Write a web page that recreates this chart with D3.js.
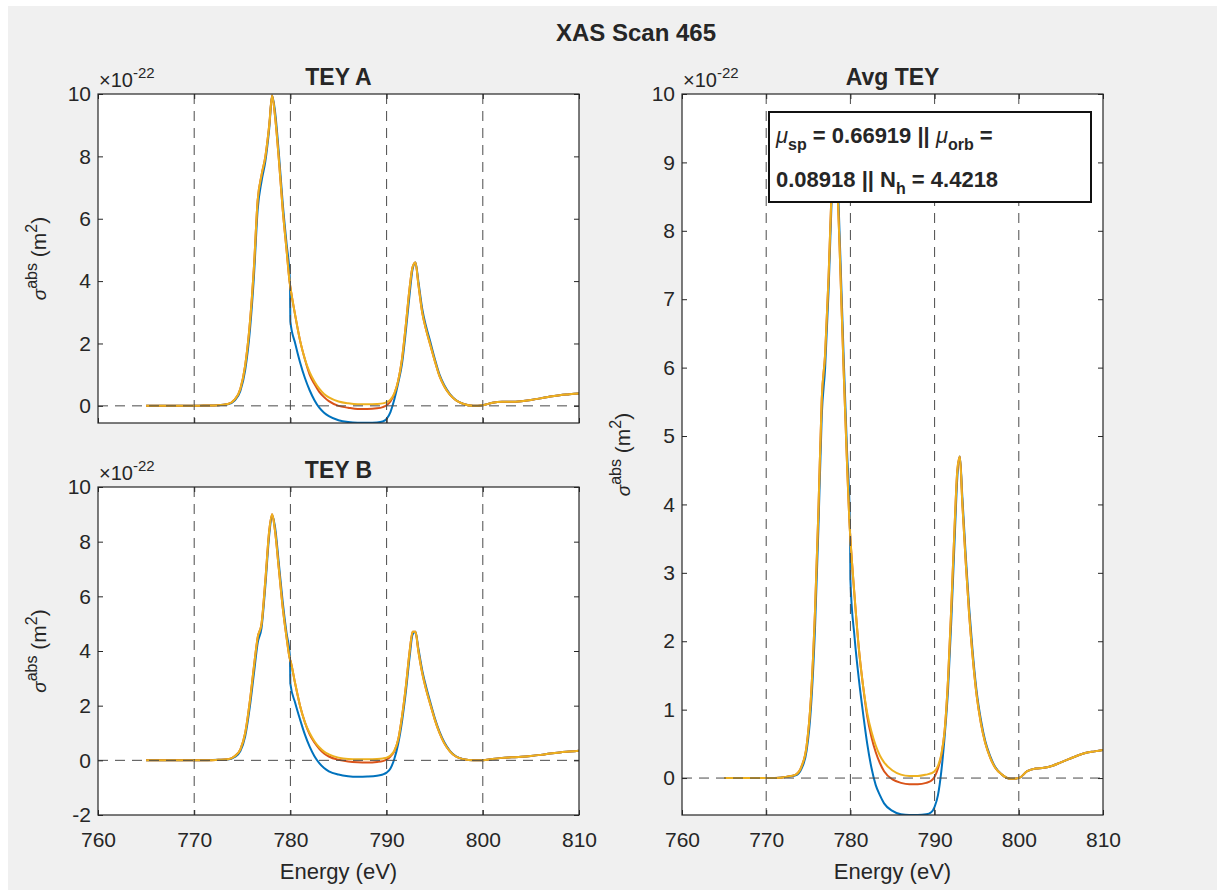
<!DOCTYPE html>
<html><head><meta charset="utf-8">
<script src="https://cdn.jsdelivr.net/npm/d3@7"></script>
<style>
body{margin:0;background:#fff}
svg{display:block}
text{font-family:"Liberation Sans",Arial,Helvetica,sans-serif;fill:#262626}
</style></head>
<body><svg id="chart" width="1217" height="890"></svg>
<script>
// ---------- DATA ----------
const energy = [765,767,769,771,772.5,773.5,774.2,774.8,775.3,775.8,776.2,776.6,777.0,777.4,777.8,778.1,778.4,778.8,779.2,779.6,779.95,780.0,780.5,781.0,781.5,782.0,782.5,783.0,783.5,784.0,785.0,786.0,787.0,788.0,789.0,789.6,790.0,790.4,790.8,791.2,791.6,792.0,792.4,792.7,793.0,793.3,793.7,794.1,794.5,795.0,795.5,796.0,796.6,797.2,798.0,799.0,800.0,801.0,802.0,803.0,804.0,805.0,806.0,807.0,808.0,809.0,810.0];

const teyA_yellow = [0,0,0,0.01,0.02,0.06,0.2,0.55,1.3,2.7,4.4,6.6,7.4,8.0,9.0,9.95,9.3,7.9,6.3,5.0,3.9,3.8,2.9,2.1,1.5,1.08,0.78,0.55,0.38,0.27,0.14,0.08,0.05,0.05,0.06,0.08,0.12,0.2,0.4,0.8,1.5,2.6,3.8,4.45,4.6,3.9,3.0,2.45,2.0,1.45,0.95,0.62,0.35,0.18,0.06,0.0,0.02,0.1,0.13,0.13,0.15,0.19,0.24,0.3,0.34,0.37,0.4];
const teyA_orange = [0,0,0,0.01,0.02,0.06,0.2,0.55,1.3,2.7,4.4,6.6,7.4,8.0,9.0,9.95,9.3,7.9,6.3,5.0,3.9,3.8,2.9,2.1,1.5,1.0,0.7,0.45,0.28,0.15,0.0,-0.06,-0.1,-0.1,-0.08,-0.04,0.02,0.14,0.38,0.8,1.5,2.6,3.8,4.45,4.6,3.9,3.0,2.45,2.0,1.45,0.95,0.62,0.35,0.18,0.06,0.0,0.02,0.1,0.13,0.13,0.15,0.19,0.24,0.3,0.34,0.37,0.4];
const teyA_blue = [0,0,0,0.01,0.02,0.05,0.17,0.48,1.15,2.45,4.1,6.3,7.2,7.85,8.9,9.95,9.45,8.1,6.5,5.2,4.05,2.7,2.0,1.4,0.9,0.5,0.18,-0.06,-0.22,-0.33,-0.46,-0.52,-0.54,-0.54,-0.53,-0.5,-0.42,-0.2,0.2,0.72,1.35,2.4,3.6,4.38,4.6,4.0,3.12,2.55,2.1,1.52,1.0,0.66,0.37,0.19,0.06,0.0,0.02,0.1,0.13,0.13,0.15,0.19,0.24,0.3,0.34,0.37,0.4];

const teyB_yellow = [0,0,0,0,0.02,0.04,0.15,0.4,1.0,2.2,3.4,4.5,5.0,6.6,8.4,9.0,8.4,7.0,5.6,4.5,3.7,3.65,2.8,2.0,1.4,1.0,0.7,0.48,0.32,0.22,0.1,0.05,0.04,0.04,0.05,0.07,0.1,0.18,0.35,0.75,1.6,2.7,4.0,4.7,4.7,4.0,3.2,2.6,2.1,1.5,1.0,0.62,0.32,0.14,0.04,0.0,0.0,0.05,0.09,0.11,0.13,0.16,0.2,0.25,0.29,0.32,0.35];
const teyB_orange = [0,0,0,0,0.02,0.04,0.15,0.4,1.0,2.2,3.4,4.5,5.0,6.6,8.4,9.0,8.4,7.0,5.6,4.5,3.7,3.65,2.8,2.0,1.4,0.95,0.65,0.42,0.25,0.14,0.02,-0.04,-0.07,-0.08,-0.06,-0.03,0.03,0.14,0.33,0.75,1.6,2.7,4.0,4.7,4.7,4.0,3.2,2.6,2.1,1.5,1.0,0.62,0.32,0.14,0.04,0.0,0.0,0.05,0.09,0.11,0.13,0.16,0.2,0.25,0.29,0.32,0.35];
const teyB_blue = [0,0,0,0,0.02,0.03,0.12,0.34,0.88,2.0,3.15,4.3,4.85,6.4,8.25,8.95,8.55,7.2,5.8,4.65,3.82,2.8,2.1,1.5,0.95,0.5,0.15,-0.1,-0.28,-0.4,-0.52,-0.58,-0.6,-0.59,-0.56,-0.52,-0.45,-0.3,0.05,0.6,1.42,2.5,3.8,4.6,4.7,4.1,3.3,2.7,2.18,1.56,1.05,0.66,0.34,0.15,0.04,0.0,0.0,0.05,0.09,0.11,0.13,0.16,0.2,0.25,0.29,0.32,0.35];

const avg_yellow = [0,0,0,0,0.02,0.05,0.17,0.47,1.15,2.45,3.9,5.55,6.2,7.3,8.7,9.45,8.85,7.45,5.95,4.6,3.6,3.5,2.65,1.9,1.35,0.95,0.68,0.48,0.33,0.23,0.11,0.05,0.03,0.03,0.05,0.07,0.1,0.18,0.35,0.7,1.45,2.55,3.75,4.5,4.7,4.0,3.15,2.4,1.8,1.2,0.8,0.52,0.3,0.15,0.05,-0.01,0.0,0.1,0.14,0.15,0.18,0.23,0.28,0.33,0.37,0.39,0.41];
const avg_orange = [0,0,0,0,0.02,0.05,0.17,0.47,1.15,2.45,3.9,5.55,6.2,7.3,8.7,9.45,8.85,7.45,5.95,4.6,3.6,3.5,2.65,1.9,1.35,0.9,0.6,0.38,0.22,0.1,-0.02,-0.07,-0.09,-0.09,-0.07,-0.04,0.02,0.14,0.33,0.7,1.45,2.55,3.75,4.5,4.7,4.0,3.15,2.4,1.8,1.2,0.8,0.52,0.3,0.15,0.05,-0.01,0.0,0.1,0.14,0.15,0.18,0.23,0.28,0.33,0.37,0.39,0.41];
const avg_blue = [0,0,0,0,0.02,0.04,0.14,0.4,1.0,2.2,3.65,5.3,6.0,7.1,8.55,9.45,9.0,7.65,6.15,4.78,3.72,2.9,2.05,1.45,0.95,0.5,0.15,-0.1,-0.25,-0.37,-0.48,-0.53,-0.54,-0.54,-0.53,-0.5,-0.42,-0.25,0.1,0.62,1.3,2.35,3.55,4.4,4.7,4.1,3.25,2.5,1.88,1.26,0.85,0.55,0.32,0.16,0.05,-0.01,0.0,0.1,0.14,0.15,0.18,0.23,0.28,0.33,0.37,0.39,0.41];

const xTicks = [760,770,780,790,800,810];
const yTicksA = [0,2,4,6,8,10];
const yTicksB = [-2,0,2,4,6,8,10];
const yTicksC = [0,1,2,3,4,5,6,7,8,9,10];
const refEnergies = [770,780,790,800];
const mainTitle = "XAS Scan 465";
const panelTitles = ["TEY A","TEY B","Avg TEY"];
const seriesColors = ["#0072BD","#D95319","#EDB120"];

// ---------- DRAW ----------
const svg = d3.select("#chart");
svg.append("rect").attr("x",8).attr("y",6).attr("width",1209).attr("height",884).attr("fill","#f0f0f0");

svg.append("text").attr("x",636).attr("y",41).attr("text-anchor","middle")
  .attr("font-size",24).attr("font-weight","bold").attr("fill","#1a1a1a").text(mainTitle);

const fmt = d => String(d);

function panel(cfg, idx){
  const {left,right,top,bottom,yDomain,yTicks,series,title,showX} = cfg;
  const x = d3.scaleLinear().domain([760,810]).range([left,right]);
  const y = d3.scaleLinear().domain(yDomain).range([bottom,top]);
  const g = svg.append("g");
  g.append("rect").attr("x",left).attr("y",top).attr("width",right-left).attr("height",bottom-top).attr("fill","#fff");
  const cid = "clip"+idx;
  svg.append("clipPath").attr("id",cid).append("rect")
    .attr("x",left).attr("y",top-2).attr("width",right-left).attr("height",bottom-top+2);
  const plot = g.append("g").attr("clip-path",`url(#${cid})`);
  const line = d3.line().x((d,i)=>x(energy[i])).y(d=>y(d)).curve(d3.curveMonotoneX);
  series.forEach((s,k)=>{
    plot.append("path").attr("d",line(s)).attr("fill","none")
      .attr("stroke",seriesColors[k]).attr("stroke-width",2).attr("stroke-linejoin","round");
  });
  refEnergies.forEach(e=>{
    plot.append("line").attr("x1",x(e)).attr("x2",x(e)).attr("y1",top).attr("y2",bottom)
      .attr("stroke","#4a4a4a").attr("stroke-width",1).attr("stroke-dasharray","10,7");
  });
  plot.append("line").attr("x1",left).attr("x2",right).attr("y1",y(0)).attr("y2",y(0))
    .attr("stroke","#4a4a4a").attr("stroke-width",1).attr("stroke-dasharray","10,7");

  const ax = (a)=>a.tickSizeInner(-5).tickSizeOuter(0);
  const gl = g.append("g").attr("transform",`translate(${left},0)`)
    .call(ax(d3.axisLeft(y).tickValues(yTicks).tickFormat(fmt)).tickPadding(7));
  const gr = g.append("g").attr("transform",`translate(${right},0)`)
    .call(ax(d3.axisRight(y).tickValues(yTicks)).tickFormat(""));
  const gb = g.append("g").attr("transform",`translate(0,${bottom})`)
    .call(ax(d3.axisBottom(x).tickValues(xTicks)).tickPadding(17).tickFormat(showX? fmt : ""));
  const gt = g.append("g").attr("transform",`translate(0,${top})`)
    .call(ax(d3.axisTop(x).tickValues(xTicks)).tickFormat(""));
  [gl,gr,gb,gt].forEach(a=>{
    a.select(".domain").remove();
    a.selectAll("line").attr("stroke","#262626");
    a.selectAll("text").attr("font-size",21).attr("fill","#262626").attr("font-family",'"Liberation Sans",Arial,sans-serif');
  });
  g.append("rect").attr("x",left).attr("y",top).attr("width",right-left).attr("height",bottom-top)
    .attr("fill","none").attr("stroke","#262626").attr("stroke-width",1.2);

  const ex = g.append("text").attr("x",left+1).attr("y",top-7).attr("font-size",20).attr("fill","#555");
  ex.append("tspan").text("\u00d710");
  ex.append("tspan").attr("dy",-9).attr("font-size",15).text("-22");

  g.append("text").attr("x",(left+right)/2).attr("y",top-9).attr("text-anchor","middle")
    .attr("font-size",23).attr("font-weight","bold").attr("fill","#111").text(title);

  const yl = g.append("text").attr("transform",`translate(${left-52},${(top+bottom)/2}) rotate(-90)`)
    .attr("text-anchor","middle").attr("font-size",21);
  yl.append("tspan").attr("font-style","italic").attr("font-size",19).text("\u03c3");
  yl.append("tspan").attr("dy",-9).attr("font-size",16).text("abs");
  yl.append("tspan").attr("dy",9).text(" (m");
  yl.append("tspan").attr("dy",-9).attr("font-size",16).text("2");
  yl.append("tspan").attr("dy",9).text(")");

  if(showX){
    g.append("text").attr("x",(left+right)/2).attr("y",879).attr("text-anchor","middle")
      .attr("font-size",22).text("Energy (eV)");
  }
  return {x,y,g};
}

panel({left:98,right:579,top:94,bottom:423,yDomain:[-0.55,10],yTicks:yTicksA,
  series:[teyA_blue,teyA_orange,teyA_yellow],title:panelTitles[0],showX:false},0);
panel({left:98,right:579,top:487,bottom:815,yDomain:[-2,10],yTicks:yTicksB,
  series:[teyB_blue,teyB_orange,teyB_yellow],title:panelTitles[1],showX:true},1);
const pc = panel({left:682,right:1103,top:94,bottom:815,yDomain:[-0.54,10],yTicks:yTicksC,
  series:[avg_blue,avg_orange,avg_yellow],title:panelTitles[2],showX:true},2);

const bx = pc.g.append("g");
bx.append("rect").attr("x",769).attr("y",112).attr("width",322).attr("height",90)
  .attr("fill","#fff").attr("stroke","#111").attr("stroke-width",2);
const t1 = bx.append("text").attr("x",776).attr("y",143).attr("font-size",22).attr("font-weight","bold").attr("fill","#111");
t1.append("tspan").attr("font-style","italic").attr("font-weight","normal").text("\u03bc");
t1.append("tspan").attr("dy",7).attr("font-size",16).text("sp");
t1.append("tspan").attr("dy",-7).text(" = 0.66919 || ");
t1.append("tspan").attr("font-style","italic").attr("font-weight","normal").text("\u03bc");
t1.append("tspan").attr("dy",7).attr("font-size",16).text("orb");
t1.append("tspan").attr("dy",-7).text(" =");
const t2 = bx.append("text").attr("x",776).attr("y",187).attr("font-size",22).attr("font-weight","bold").attr("fill","#111");
t2.append("tspan").text("0.08918 || N");
t2.append("tspan").attr("dy",7).attr("font-size",16).text("h");
t2.append("tspan").attr("dy",-7).text(" = 4.4218");
</script></body></html>
